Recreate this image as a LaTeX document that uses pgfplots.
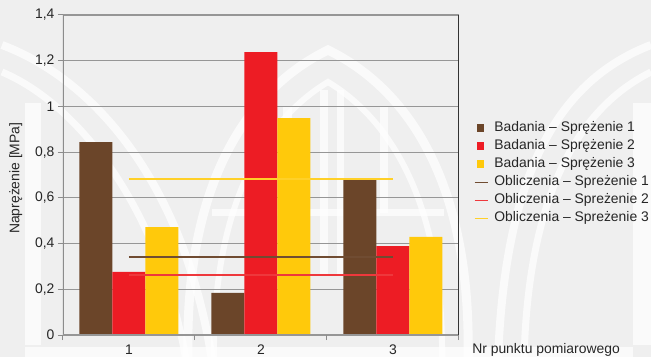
\documentclass[border=0pt]{standalone}
\usepackage{pgfplots}
\pgfplotsset{compat=1.18}
\usepackage{fontspec}
\setmainfont{Liberation Sans}

\definecolor{bgcol}{RGB}{239,239,239}
\definecolor{brownB}{RGB}{107,69,41}
\definecolor{redB}{RGB}{237,28,36}
\definecolor{yellowB}{RGB}{255,201,11}
\definecolor{brownL}{RGB}{112,76,50}
\definecolor{redL}{RGB}{238,56,60}
\definecolor{yellowL}{RGB}{255,208,40}
\definecolor{gridcol}{RGB}{150,150,150}
\definecolor{axiscol}{RGB}{140,140,140}

\newcommand\chartfont{\fontsize{13.9bp}{16bp}\selectfont}

\begin{document}
\begin{tikzpicture}[font=\chartfont]
% page background and faint emblem, in pixel-like units (y downwards)
\begin{scope}[shift={(-63bp,335bp)}, x=1bp, y=-1bp]
  \fill[bgcol] (0,0) rectangle (651,357);
  \begin{scope}[white, opacity=0.75]
    % sweeping arcs from the upper corners
    \draw[line width=8] (2,45) .. controls (100,82) and (185,190) .. (212,360);
    \draw[line width=7] (2,72) .. controls (80,105) and (160,210) .. (186,360);
    \draw[line width=8] (651,45) .. controls (560,80) and (505,170) .. (498,360);
    \draw[line width=7] (651,72) .. controls (575,110) and (528,200) .. (524,360);
    % central pointed arch
    \draw[line width=9] (188,360) .. controls (184,180) and (250,88) .. (328,50)
          .. controls (406,88) and (472,180) .. (468,360);
    \draw[line width=6] (214,360) .. controls (212,200) and (268,118) .. (328,82)
          .. controls (388,118) and (444,200) .. (442,360);
    \fill (212,209) rectangle (444,216);
    \fill (283,107) rectangle (292,213);
    \fill (320,90) rectangle (328,275);
    \fill (337,90) rectangle (344,275);
    \fill (380,107) rectangle (388,213);
    % side posts and base
    \fill (25,103) rectangle (41,345);
    \fill (633,103) rectangle (651,345);
    \fill (25,347) rectangle (633,357);
  \end{scope}
\end{scope}

\begin{axis}[
  at={(0,0)}, anchor=south west,
  scale only axis, width=396bp, height=320bp,
  xmin=0.5, xmax=3.5, ymin=0, ymax=1.4,
  xtick={1,2,3}, xticklabels={1,2,3},
  minor xtick={0.5,1.5,2.5,3.5},
  major x tick style={draw=none},
  minor x tick style={axiscol, line width=1bp},
  minor tick length=5bp,
  ytick={0,0.2,0.4,0.6,0.8,1,1.2,1.4},
  y tick style={axiscol, line width=1bp},
  major tick length=5bp,
  tick align=outside, tick pos=left,
  ymajorgrids, grid style={gridcol, line width=1.2bp},
  axis line style={draw=none},
  /pgf/number format/.cd, use comma, 1000 sep={}, assume math mode=true, /pgfplots/.cd,
  tick label style={font=\chartfont, text=black!85},
  xticklabel style={yshift=-1bp},
  ylabel={Naprężenie [MPa]},
  ylabel style={font=\chartfont, text=black!85, at={(axis description cs:-0.119,0.49)}, anchor=center},
  xlabel={Nr punktu pomiarowego},
  xlabel style={font=\chartfont, text=black!85, at={(axis description cs:1.033,0)}, anchor=north west, yshift=-8.5bp, inner sep=0pt},
  legend style={at={(axis description cs:1.037,0.505)}, anchor=west,
    draw=none, fill=none, font=\chartfont, text=black!85, inner sep=0pt, row sep=3bp,
    nodes={inner sep=1bp, text height=10bp, text depth=3bp},
    /tikz/every odd column/.append style={column sep=5bp}},
  legend cell align=left,
]
\addplot[ybar, bar width=0.25, bar shift=-0.25, fill=brownB, draw=none,
  legend image code/.code={\fill[brownB] (2bp,-3.5bp) rectangle (9.5bp,4bp);}]
  coordinates {(1,0.844) (2,0.184) (3,0.678)};
\addplot[ybar, bar width=0.25, bar shift=0, fill=redB, draw=none,
  legend image code/.code={\fill[redB] (2bp,-3.5bp) rectangle (9.5bp,4bp);}]
  coordinates {(1,0.276) (2,1.238) (3,0.389)};
\addplot[ybar, bar width=0.25, bar shift=0.25, fill=yellowB, draw=none,
  legend image code/.code={\fill[yellowB] (2bp,-3.5bp) rectangle (9.5bp,4bp);}]
  coordinates {(1,0.472) (2,0.949) (3,0.429)};
\addplot[sharp plot, no marks, brownL, line width=2bp,
  legend image code/.code={\draw[brownL, line width=1.5bp] (0bp,0bp) -- (13bp,0bp);}]
  coordinates {(1,0.342) (3,0.342)};
\addplot[sharp plot, no marks, redL, line width=2bp,
  legend image code/.code={\draw[redL, line width=1.5bp] (0bp,0bp) -- (13bp,0bp);}]
  coordinates {(1,0.262) (3,0.262)};
\addplot[sharp plot, no marks, yellowL, line width=2bp,
  legend image code/.code={\draw[yellowL, line width=1.5bp] (0bp,0bp) -- (13bp,0bp);}]
  coordinates {(1,0.681) (3,0.681)};
\legend{Badania – Sprężenie 1, Badania – Sprężenie 2, Badania – Sprężenie 3,
  Obliczenia – Spreżenie 1, Obliczenia – Spreżenie 2, Obliczenia – Spreżenie 3}
% axis frame: grey left and bottom, dark right edge
\draw[axiscol, line width=1.2bp] (rel axis cs:0,0) -- (rel axis cs:0,1);
\draw[gridcol, line width=1.8bp] (rel axis cs:0,0) -- (rel axis cs:1,0);
\draw[black!80, line width=1bp] (rel axis cs:1,-0.016) -- (rel axis cs:1,1);
\end{axis}

\pgfresetboundingbox
\path[use as bounding box] (-63bp,-22bp) rectangle (588bp,335bp);
\end{tikzpicture}
\end{document}
